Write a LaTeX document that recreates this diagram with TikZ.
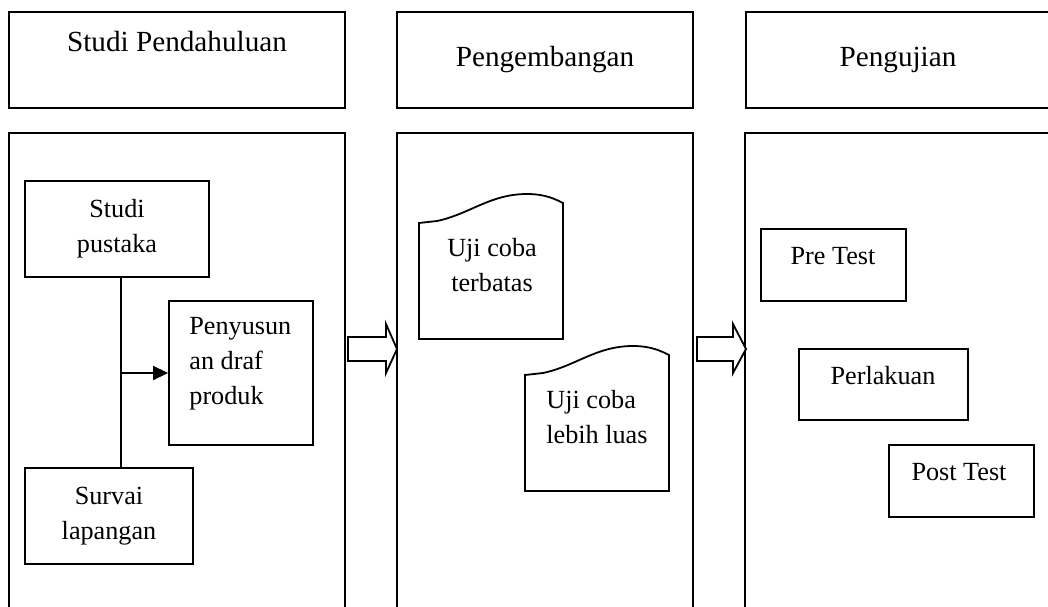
\documentclass[tikz,border=0pt]{standalone}
\usepackage{fontspec}
\setmainfont{Liberation Serif}
\usetikzlibrary{arrows.meta}

\tikzset{
  box/.style={draw,line width=0.9pt,inner sep=0pt},
  txt/.style={font=\fontsize{13.1}{17.5}\selectfont,inner sep=0pt,align=center},
  head/.style={font=\fontsize{14.6}{17.5}\selectfont,inner sep=0pt,align=center},
  fatarrow/.style={draw,line width=0.9pt,fill=white},
  dok/.pic={
    \draw[line width=0.9pt] (0,0) -- (0,-116) -- (18,-118)
      .. controls (51,-125) and (71,-145) .. (108,-145)
      .. controls (126,-145) and (136,-140) .. (144,-136) -- (144,0) -- cycle;
  }
}

\begin{document}
\begin{tikzpicture}[x=0.5pt,y=-0.5pt]
\useasboundingbox (0,0) rectangle (1048,606);
\fill[white] (0,0) rectangle (1048,606);
\clip (0,0) rectangle (1048,606);
% headers
\node[box,minimum width=168pt,minimum height=48pt] (hdStudi) at (177,60) {};
\node[head] (hdStudiTxt) at (177,42) {Studi Pendahuluan};
\node[box,head,minimum width=148pt,minimum height=48pt] (hdKembang) at (545,60) {Pengembangan};
\node[box,head,minimum width=152pt,minimum height=48pt] (hdUji) at (898,60) {Pengujian};
% panels
\node[box,minimum width=168pt,minimum height=245pt] (panStudi) at (177,378) {};
\node[box,minimum width=148pt,minimum height=245pt] (panKembang) at (545,378) {};
\node[box,minimum width=152.5pt,minimum height=245pt] (panUji) at (897.5,378) {};
% studi pendahuluan
\node[box,txt,minimum width=92pt,minimum height=48pt] (pustaka) at (117,229) {Studi\\pustaka};
\node[box,minimum width=72pt,minimum height=72pt] (draf) at (241,373) {};
\node[txt,align=left,anchor=west] (drafTxt) at (189,364) {Penyusun\\an draf\\produk};
\node[box,txt,minimum width=84pt,minimum height=48pt] (survai) at (109,516) {Survai\\lapangan};
\coordinate (cabang) at (121,373);
\draw[line width=0.8pt] (pustaka.south -| cabang) -- (survai.north -| cabang);
\draw[line width=0.8pt,-{Triangle[length=7.5pt,width=7pt]}] (cabang) -- (draf.west);
% pengembangan
\pic (dokTerbatas) at (419,339) {dok};
\node[txt] (terbatas) at (492,265) {Uji coba\\terbatas};
\pic (dokLuas) at (525,491) {dok};
\node[txt,align=left,anchor=west] (luas) at (546,417) {Uji coba\\lebih luas};
% pengujian
\node[box,minimum width=72.5pt,minimum height=36pt] (pre) at (833.5,265) {};
\node[txt] (preTxt) at (833,256) {Pre Test};
\node[box,minimum width=84.5pt,minimum height=35.5pt] (perlakuan) at (883.5,384.5) {};
\node[txt] (perlakuanTxt) at (883,376) {Perlakuan};
\node[box,minimum width=72.5pt,minimum height=36pt] (post) at (961.5,481) {};
\node[txt] (postTxt) at (959,472) {Post Test};
% block arrows between panels
\draw[fatarrow] (348,337) -- (386,337) -- (386,324) -- (397,349) -- (386,373) -- (386,361) -- (348,361) -- cycle;
\draw[fatarrow] (697,337) -- (733,337) -- (733,324) -- (746,349) -- (733,373) -- (733,361) -- (697,361) -- cycle;
\end{tikzpicture}
\end{document}
